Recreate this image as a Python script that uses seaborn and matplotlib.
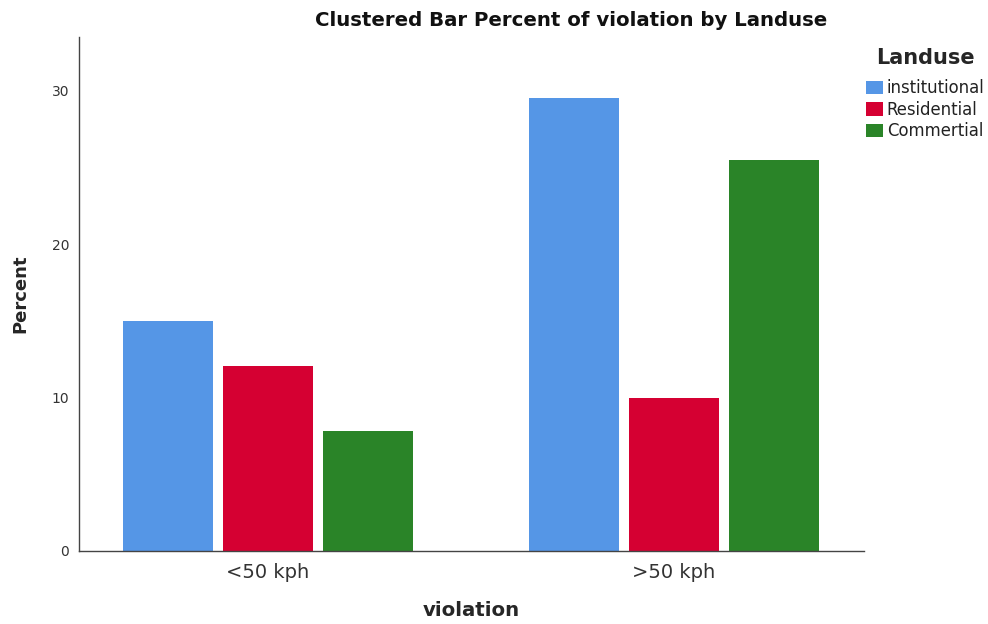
import matplotlib
matplotlib.use("Agg")
import matplotlib.pyplot as plt
import seaborn as sns
import pandas as pd
from matplotlib.patches import Patch

categories = ["<50 kph", ">50 kph"]
landuse = ["institutional", "Residential", "Commertial"]
institutional = [15.0, 29.5]
residential = [12.05, 10.0]
commertial = [7.8, 25.5]
colors = ["#5596E6", "#D50032", "#2A8428"]

rows = []
for name, vals in zip(landuse, [institutional, residential, commertial]):
    for c, v in zip(categories, vals):
        rows.append({"violation": c, "Landuse": name, "Percent": v})
df = pd.DataFrame(rows)

sns.set_style("white")
plt.rcParams["font.family"] = ["DejaVu Sans"]

fig = plt.figure(figsize=(9.88, 6.24), dpi=100)
ax = fig.add_axes([0.08, 0.117, 0.7945, 0.8237])
sns.barplot(data=df, x="violation", y="Percent", hue="Landuse", hue_order=landuse,
            order=categories, palette=colors, width=0.739, gap=0.1, saturation=1,
            edgecolor="none", ax=ax, legend=False)
ax.set_xlim(-0.4655, 1.468)
ax.set_ylim(0, 33.5)
ax.set_yticks([0, 10, 20, 30])
for s in ["top", "right"]:
    ax.spines[s].set_visible(False)
for s in ["left", "bottom"]:
    ax.spines[s].set_color("#444444")
    ax.spines[s].set_linewidth(1.0)
ax.tick_params(axis="y", labelsize=10, colors="#333333", length=0, pad=7)
ax.tick_params(axis="x", labelsize=14, colors="#333333", length=0, pad=9)
ax.set_xlabel("violation", fontsize=14.2, fontweight="bold", labelpad=13)
ax.set_ylabel("Percent", fontsize=13, fontweight="bold", labelpad=16)

fig.text(571/988, 1 - 21/624, "Clustered Bar Percent of violation by Landuse",
         ha="center", va="center", fontsize=14.2, fontweight="bold", color="#111111")

handles = [Patch(facecolor=c, edgecolor="none") for c in colors]
leg = fig.legend(handles, landuse, title="Landuse", loc="upper left",
                 bbox_to_anchor=(866/988, 1 - 48/624), frameon=False,
                 fontsize=11.9, title_fontproperties={"weight": "bold", "size": 15},
                 handlelength=1.0, handleheight=0.85, handletextpad=0.25,
                 labelspacing=0.22, borderaxespad=0, borderpad=0)
leg._legend_box.sep = 8
for t in leg.get_texts():
    t.set_color("#222222")

fig.savefig("out.png", dpi=100)
